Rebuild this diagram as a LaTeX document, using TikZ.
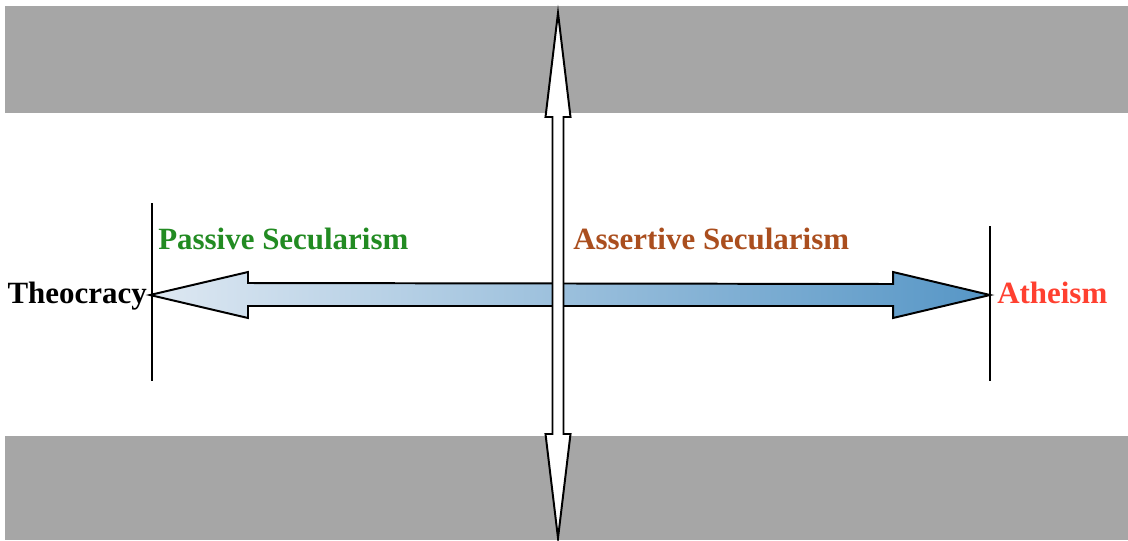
\documentclass[tikz,border=0pt]{standalone}
\usepackage{fontspec}
\setmainfont{Liberation Serif}
\definecolor{bandgrey}{RGB}{166,166,166}
\definecolor{passgreen}{RGB}{34,139,34}
\definecolor{assbrown}{RGB}{170,78,30}
\definecolor{athred}{RGB}{255,64,48}
\definecolor{shadelight}{RGB}{222,232,242}
\definecolor{shadedark}{RGB}{86,150,198}
\begin{document}
\begin{tikzpicture}[x=0.025cm, y=-0.025cm,
  band/.style={fill=bandgrey, draw=none},
  lbl/.style={font=\bfseries\fontsize{22}{26}\selectfont, inner sep=0pt},
  bar/.style={draw=black, line width=1.4pt},
  arr/.style={draw=black, line width=1.4pt, line join=miter}]

  \useasboundingbox (0,0) rectangle (1128,540);

  % grey bands
  \fill[band] (5,6) rectangle (1128,113);
  \fill[band] (5,436) rectangle (1128,540);

  % end marks
  \coordinate (ltop) at (152,203);
  \coordinate (lbot) at (152,381);
  \coordinate (rtop) at (990,226);
  \coordinate (rbot) at (990,381);
  \draw[bar] (ltop) -- (lbot);
  \draw[bar] (rtop) -- (rbot);

  % horizontal double arrow
  \coordinate (theo) at (150,295);
  \coordinate (athe) at (990,295);
  \draw[arr, left color=shadelight, right color=shadedark]
    (theo) -- ++(98,-23) -- ++(0,11) -- ([xshift=-97*0.025cm, yshift=11*0.025cm]athe)
    -- ++(0,-12) -- (athe) -- ++(-97,23) -- ++(0,-12) -- ([xshift=98*0.025cm, yshift=-11*0.025cm]theo)
    -- ++(0,12) -- cycle;

  % vertical double arrow
  \coordinate (up) at (558,13);
  \coordinate (down) at (558,538);
  \draw[arr, fill=white]
    (up) -- (570.5,117) -- (563.5,117) -- (563.5,434) -- (570.5,434) -- (down)
    -- (545.5,434) -- (552.5,434) -- (552.5,117) -- (545.5,117) -- cycle;

  % labels
  \node[lbl, anchor=base east] (theolbl) at (147,303) {Theocracy};
  \node[lbl, anchor=base west, text=athred] (athelbl) at (997,303) {Atheism};
  \node[lbl, anchor=base west, text=passgreen] (passlbl) at (158,249) {Passive Secularism};
  \node[lbl, anchor=base west, text=assbrown] (asslbl) at (573,249) {Assertive Secularism};

\end{tikzpicture}
\end{document}
